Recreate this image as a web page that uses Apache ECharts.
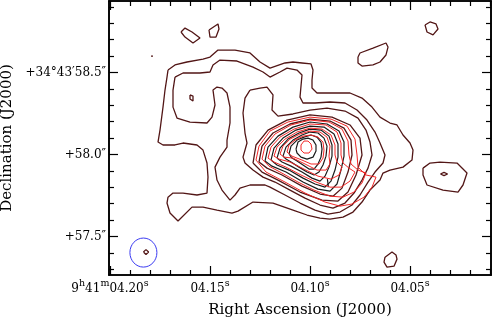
<!DOCTYPE html>
<html><head><meta charset="utf-8">
<script src="https://cdn.jsdelivr.net/npm/echarts@6/dist/echarts.min.js"></script>
<style>html,body{margin:0;padding:0;background:#fff}#c{width:496px;height:319px}</style>
</head><body><div id="c"></div>
<script>
// ---- axes (RA in seconds of 9h41m, Dec in arcsec of +34°43') ----
const raRange = [4.0095, 4.2005];
const decRange = [57.2652, 58.936];
const raMajorTicks = [4.20, 4.15, 4.10, 4.05];
const raMinorTicks = [4.19,4.18,4.17,4.16,4.14,4.13,4.12,4.11,4.09,4.08,4.07,4.06,4.04,4.03,4.02,4.01];
const raTickLabels = [['9','h','41','m','04.20','s'],['04.15','s'],['04.10','s'],['04.05','s']];
const decMajorTicks = [57.5, 58.0, 58.5];
const decMinorTicks = [57.3,57.4,57.6,57.7,57.8,57.9,58.1,58.2,58.3,58.4,58.6,58.7,58.8,58.9];
const decTickLabels = ['+57.5″','+58.0″','+34°43′58.5″'];
const xTitle = 'Right Ascension (J2000)';
const yTitle = 'Declination (J2000)';

// ---- contours [RA s, Dec arcsec] ----
const levelA = [[4.1710,58.515],[4.1675,58.546],[4.1615,58.564],[4.1535,58.582],[4.1500,58.594],[4.1460,58.637],[4.1375,58.637],[4.1300,58.619],[4.1250,58.564],[4.1200,58.527],[4.1125,58.558],[4.1085,58.564],[4.1040,58.558],[4.0995,58.552],[4.0985,58.515],[4.0990,58.454],[4.0990,58.405],[4.0965,58.375],[4.0900,58.375],[4.0800,58.375],[4.0740,58.344],[4.0690,58.289],[4.0650,58.228],[4.0600,58.192],[4.0565,58.180],[4.0535,58.119],[4.0500,58.070],[4.0485,58.027],[4.0490,57.966],[4.0535,57.923],[4.0600,57.905],[4.0635,57.887],[4.0650,57.844],[4.0700,57.783],[4.0740,57.710],[4.0785,57.649],[4.0835,57.618],[4.0900,57.606],[4.0950,57.612],[4.1015,57.631],[4.1085,57.661],[4.1185,57.704],[4.1285,57.710],[4.1360,57.655],[4.1390,57.643],[4.1465,57.661],[4.1535,57.679],[4.1590,57.679],[4.1660,57.594],[4.1700,57.643],[4.1715,57.704],[4.1710,57.740],[4.1685,57.765],[4.1635,57.765],[4.1565,57.753],[4.1515,57.765],[4.1510,57.862],[4.1515,57.948],[4.1535,58.027],[4.1565,58.058],[4.1635,58.070],[4.1675,58.058],[4.1735,58.058],[4.1760,58.076],[4.1750,58.149],[4.1735,58.289],[4.1725,58.393],[4.1715,58.472]];
const levelB = [[4.1675,58.472],[4.1635,58.497],[4.1550,58.497],[4.1500,58.503],[4.1485,58.546],[4.1450,58.576],[4.1365,58.570],[4.1285,58.533],[4.1235,58.503],[4.1200,58.472],[4.1150,58.503],[4.1115,58.527],[4.1065,58.515],[4.1040,58.485],[4.1050,58.350],[4.1035,58.314],[4.0975,58.314],[4.0900,58.320],[4.0825,58.314],[4.0765,58.271],[4.0715,58.210],[4.0675,58.137],[4.0650,58.070],[4.0625,57.997],[4.0635,57.948],[4.0675,57.893],[4.0710,57.832],[4.0750,57.753],[4.0790,57.692],[4.0850,57.649],[4.0910,57.637],[4.0975,57.661],[4.1050,57.704],[4.1125,57.753],[4.1200,57.801],[4.1225,57.814],[4.1300,57.814],[4.1350,57.795],[4.1375,57.753],[4.1400,57.722],[4.1440,57.783],[4.1465,57.844],[4.1475,57.923],[4.1450,57.984],[4.1415,58.045],[4.1415,58.088],[4.1400,58.192],[4.1400,58.289],[4.1415,58.375],[4.1440,58.405],[4.1465,58.411],[4.1485,58.393],[4.1475,58.302],[4.1490,58.228],[4.1515,58.192],[4.1600,58.198],[4.1665,58.222],[4.1685,58.289],[4.1685,58.393]];
const levelC = [[4.1300,58.393],[4.1250,58.405],[4.1215,58.411],[4.1185,58.363],[4.1190,58.271],[4.1160,58.234],[4.1085,58.247],[4.1000,58.271],[4.0915,58.283],[4.0825,58.265],[4.0760,58.222],[4.0720,58.149],[4.0700,58.076],[4.0690,57.997],[4.0710,57.917],[4.0740,57.844],[4.0780,57.765],[4.0825,57.704],[4.0885,57.673],[4.0950,57.692],[4.1025,57.734],[4.1100,57.783],[4.1175,57.832],[4.1235,57.862],[4.1285,57.905],[4.1325,57.948],[4.1335,57.984],[4.1315,58.070],[4.1325,58.131],[4.1335,58.253],[4.1325,58.344]];
const levelD = [[4.1285,57.948],[4.1270,58.058],[4.1210,58.149],[4.1115,58.210],[4.1000,58.241],[4.0890,58.228],[4.0800,58.180],[4.0750,58.100],[4.0740,57.997],[4.0770,57.875],[4.0810,57.771],[4.0860,57.716],[4.0940,57.722],[4.1050,57.771],[4.1160,57.844],[4.1240,57.893]];
const levelE = [[4.1255,57.954],[4.1240,58.051],[4.1185,58.131],[4.1100,58.186],[4.1000,58.216],[4.0900,58.204],[4.0830,58.161],[4.0795,58.088],[4.0790,57.997],[4.0810,57.893],[4.0840,57.795],[4.0885,57.746],[4.0950,57.759],[4.1040,57.807],[4.1140,57.875],[4.1215,57.917]];
const levelF = [[4.1225,57.960],[4.1210,58.045],[4.1160,58.112],[4.1085,58.167],[4.1000,58.198],[4.0915,58.186],[4.0855,58.143],[4.0830,58.076],[4.0830,57.990],[4.0845,57.905],[4.0865,57.820],[4.0900,57.777],[4.0960,57.789],[4.1035,57.832],[4.1120,57.893],[4.1190,57.929]];
const levelG = [[4.1195,57.966],[4.1180,58.039],[4.1135,58.100],[4.1070,58.149],[4.1000,58.173],[4.0930,58.167],[4.0880,58.125],[4.0860,58.064],[4.0860,57.984],[4.0875,57.905],[4.0895,57.838],[4.0925,57.801],[4.0975,57.820],[4.1035,57.856],[4.1105,57.905],[4.1165,57.936]];
const levelH = [[4.1165,57.978],[4.1150,58.039],[4.1110,58.094],[4.1055,58.131],[4.1000,58.155],[4.0945,58.149],[4.0905,58.112],[4.0890,58.058],[4.0890,57.990],[4.0905,57.923],[4.0925,57.868],[4.0950,57.838],[4.0990,57.856],[4.1040,57.893],[4.1095,57.929],[4.1140,57.954]];
const levelI = [[4.1135,57.990],[4.1120,58.045],[4.1085,58.088],[4.1040,58.119],[4.1000,58.137],[4.0960,58.131],[4.0930,58.100],[4.0915,58.051],[4.0920,57.990],[4.0935,57.936],[4.0955,57.893],[4.0980,57.875],[4.1015,57.893],[4.1055,57.923],[4.1095,57.954],[4.1120,57.972]];
const levelJ = [[4.1105,58.003],[4.1095,58.051],[4.1065,58.088],[4.1030,58.106],[4.0995,58.119],[4.0965,58.106],[4.0945,58.076],[4.0940,58.033],[4.0945,57.984],[4.0960,57.942],[4.0980,57.911],[4.1005,57.911],[4.1035,57.936],[4.1065,57.960],[4.1090,57.978]];
const levelK = [[4.1070,58.033],[4.1060,58.076],[4.1035,58.094],[4.1010,58.100],[4.0985,58.088],[4.0970,58.058],[4.0970,58.021],[4.0985,57.984],[4.1015,57.972],[4.1045,57.984],[4.1065,58.009]];
const knotTail = [[4.0913,57.850],[4.0908,57.838],[4.0908,57.801],[4.0913,57.807]];
// red contour set
const red1 = [[4.1270,57.966],[4.1255,58.051],[4.1200,58.143],[4.1110,58.198],[4.1000,58.228],[4.0895,58.216],[4.0815,58.173],[4.0775,58.094],[4.0765,57.997],[4.0760,57.923],[4.0720,57.875],[4.0670,57.862],[4.0690,57.801],[4.0730,57.740],[4.0790,57.698],[4.0850,57.685],[4.0925,57.710],[4.1025,57.765],[4.1125,57.832],[4.1220,57.893]];
const red2 = [[4.1240,57.972],[4.1225,58.051],[4.1175,58.125],[4.1095,58.180],[4.1000,58.210],[4.0905,58.198],[4.0840,58.155],[4.0810,58.082],[4.0805,57.997],[4.0795,57.942],[4.0760,57.905],[4.0720,57.887],[4.0740,57.826],[4.0780,57.771],[4.0835,57.740],[4.0900,57.746],[4.0980,57.783],[4.1060,57.832],[4.1150,57.893],[4.1205,57.929]];
const red3 = [[4.1210,57.978],[4.1195,58.045],[4.1150,58.106],[4.1080,58.155],[4.1000,58.186],[4.0920,58.180],[4.0865,58.137],[4.0845,58.070],[4.0845,57.997],[4.0835,57.948],[4.0805,57.917],[4.0775,57.893],[4.0800,57.838],[4.0845,57.801],[4.0900,57.801],[4.0970,57.832],[4.1045,57.875],[4.1120,57.923],[4.1180,57.954]];
const red4 = [[4.1180,57.990],[4.1165,58.045],[4.1125,58.094],[4.1065,58.137],[4.1000,58.161],[4.0940,58.155],[4.0895,58.119],[4.0875,58.058],[4.0875,57.997],[4.0865,57.954],[4.0840,57.923],[4.0855,57.875],[4.0895,57.850],[4.0960,57.868],[4.1030,57.911],[4.1100,57.954],[4.1155,57.972]];
const red5 = [[4.1150,58.003],[4.1135,58.051],[4.1100,58.094],[4.1050,58.125],[4.1000,58.143],[4.0950,58.137],[4.0915,58.106],[4.0900,58.051],[4.0905,57.990],[4.0900,57.942],[4.0920,57.905],[4.0965,57.905],[4.1025,57.942],[4.1085,57.978],[4.1130,57.984]];
const red6 = [[4.1115,58.015],[4.1105,58.058],[4.1075,58.088],[4.1035,58.112],[4.0995,58.119],[4.0960,58.106],[4.0935,58.076],[4.0930,58.027],[4.0935,57.978],[4.0955,57.942],[4.0995,57.942],[4.1040,57.966],[4.1090,57.990]];
const red7 = [[4.1045,58.058],[4.1030,58.082],[4.1010,58.082],[4.0995,58.064],[4.0990,58.033],[4.1005,58.009],[4.1030,58.009],[4.1045,58.027]];
// isolated patches
const patch1 = [[4.1645,58.747],[4.1625,58.771],[4.1590,58.747],[4.1550,58.710],[4.1585,58.680],[4.1625,58.716]];
const patch2 = [[4.1505,58.759],[4.1460,58.796],[4.1455,58.765],[4.1470,58.716],[4.1500,58.716]];
const patch3 = [[4.1795,58.600],[4.1790,58.606],[4.1785,58.600],[4.1790,58.594]];
const patch4 = [[4.0425,58.790],[4.0400,58.808],[4.0370,58.796],[4.0360,58.765],[4.0385,58.729],[4.0415,58.747]];
const patch5 = [[4.0760,58.594],[4.0750,58.619],[4.0685,58.649],[4.0620,58.680],[4.0610,58.655],[4.0620,58.607],[4.0650,58.564],[4.0685,58.546],[4.0740,58.539],[4.0760,58.558]];
const patch6 = [[4.0435,57.917],[4.0400,57.948],[4.0350,57.954],[4.0265,57.948],[4.0215,57.887],[4.0235,57.814],[4.0260,57.771],[4.0335,57.783],[4.0415,57.814],[4.0435,57.875]];
const patch6peak = [[4.0348,57.881],[4.0330,57.891],[4.0312,57.881],[4.0330,57.871]];
const patch7 = [[4.0625,57.374],[4.0590,57.405],[4.0570,57.387],[4.0565,57.362],[4.0580,57.319],[4.0615,57.313],[4.0630,57.344]];
const patch8 = [[4.1833,57.405],[4.1820,57.420],[4.1807,57.405],[4.1820,57.390]];
const patch9 = [[4.1600,58.363],[4.1595,58.375],[4.1585,58.356],[4.1585,58.326],[4.1595,58.320],[4.1600,58.338]];
// synthesized beam: centre RA, centre Dec, full width (s), full height (arcsec)
const beam = [4.1833, 57.402, 0.0135, 0.177];

const MAROON = '#521616', BLACK = '#1c1c1c', RED = '#f22626';
const outerSet = [levelA, levelB, levelC, levelD, levelE, patch1, patch2, patch3, patch4, patch5, patch6, patch6peak, patch7, patch8, patch9];
const blackSet = [levelF, levelG, levelH, levelI, levelJ, levelK, knotTail];
const redSet = [red1, red2, red3, red4, red5, red6, red7];

function ring(pts){ return pts.concat([pts[0]]); }
function lineSeries(pts, color, w){
  return {type:'line', data: ring(pts), xAxisIndex:0, yAxisIndex:0, showSymbol:false, symbol:'none',
    silent:true, lineStyle:{color:color, width:w}, z:3};
}
const series = [];
outerSet.forEach(p => series.push(lineSeries(p, MAROON, 1.3)));
blackSet.forEach(p => series.push(lineSeries(p, BLACK, 1.2)));
redSet.forEach(p => series.push(lineSeries(p, RED, 1.0)));
series.push({type:'custom', xAxisIndex:0, yAxisIndex:0, silent:true, z:4,
  data:[beam],
  renderItem:function(params, api){
    const c = api.coord([api.value(0), api.value(1)]);
    const s = api.size([api.value(2), api.value(3)]);
    return {type:'ellipse', shape:{cx:c[0], cy:c[1], rx:Math.abs(s[0])/2, ry:Math.abs(s[1])/2},
      style:{fill:'none', stroke:'#3b3bf2', lineWidth:1}};
  }});

function near(a, b){ return Math.abs(a-b) < 1e-6; }
function raLabel(v){
  const i = raMajorTicks.findIndex(t => near(t, v));
  if (i < 0) return '';
  return raTickLabels[i].map((s, k) => (k % 2 === 0 ? '{n|' : '{p|') + s + '}').join('');
}
function decLabel(v){
  const i = decMajorTicks.findIndex(t => near(t, v));
  return i < 0 ? '' : decTickLabels[i];
}
const FONT = 'DejaVu Serif';
const axisLine = {show:true, lineStyle:{color:'#000', width:1.6}};
function xAx(pos, ticks, len, labels){
  return {type:'value', position:pos, min:raRange[0], max:raRange[1], inverse:true,
    axisLine: axisLine, splitLine:{show:false},
    axisTick:{show:true, inside:true, length:len, customValues:ticks, lineStyle:{color:'#000', width:1.2}},
    axisLabel: labels ? {show:true, customValues:raMajorTicks, formatter:raLabel, margin:4,
      rich:{n:{fontFamily:FONT, fontSize:12, color:'#000', lineHeight:16, verticalAlign:'bottom'},
            p:{fontFamily:FONT, fontSize:9.5, color:'#000', lineHeight:16, verticalAlign:'top'}}} : {show:false},
    name: labels ? xTitle : '', nameLocation:'middle', nameGap:28,
    nameTextStyle:{fontFamily:FONT, fontSize:15, color:'#000'}};
}
function yAx(pos, ticks, len, labels){
  return {type:'value', position:pos, min:decRange[0], max:decRange[1],
    axisLine: axisLine, splitLine:{show:false},
    axisTick:{show:true, inside:true, length:len, customValues:ticks, lineStyle:{color:'#000', width:1.2}},
    axisLabel: labels ? {show:true, customValues:decMajorTicks, formatter:decLabel, margin:3,
      fontFamily:FONT, fontSize:12, color:'#000'} : {show:false},
    name: labels ? yTitle : '', nameLocation:'middle', nameGap:93, nameRotate:90,
    nameTextStyle:{fontFamily:FONT, fontSize:15, color:'#000'}};
}
const chart = echarts.init(document.getElementById('c'), null, {renderer:'canvas'});
chart.setOption({
  animation:false,
  backgroundColor:'#fff',
  grid:{left:109, top:1, width:382, height:274, containLabel:false, outerBoundsMode:'none'},
  xAxis:[xAx('bottom', raMajorTicks, 9, true), xAx('bottom', raMinorTicks, 5, false),
         xAx('top', raMajorTicks, 9, false), xAx('top', raMinorTicks, 5, false)],
  yAxis:[yAx('left', decMajorTicks, 9, true), yAx('left', decMinorTicks, 5, false),
         yAx('right', decMajorTicks, 9, false), yAx('right', decMinorTicks, 5, false)],
  series: series
});
</script></body></html>
